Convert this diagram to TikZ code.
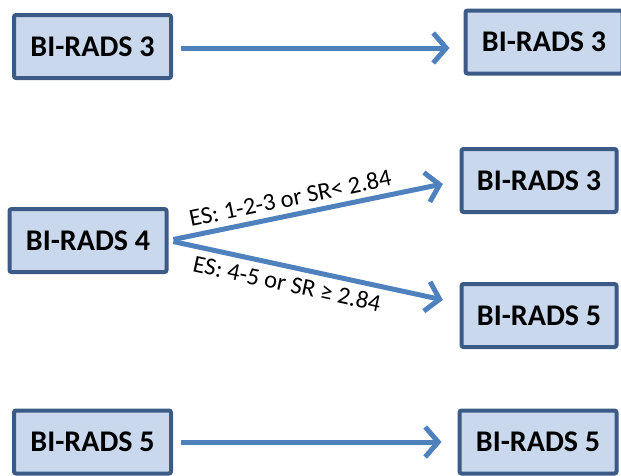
\documentclass[tikz,border=0pt]{standalone}
\usepackage{fontspec}
\setmainfont{Carlito}
\usetikzlibrary{arrows.meta}

\definecolor{boxline}{RGB}{60,90,134}
\definecolor{boxfill}{RGB}{201,216,236}
\definecolor{arrowblue}{RGB}{79,129,189}

\tikzset{
  radsbox/.style={draw=boxline, fill=boxfill, line width=4pt, rounded corners=2pt,
    minimum width=157pt, minimum height=63pt, inner sep=0pt,
    font=\fontsize{30}{32}\selectfont\bfseries},
  flowarrow/.style={draw=arrowblue, line width=5pt,
    -{Straight Barb[length=13pt, width=30pt, line width=5pt]}},
  esrule/.style={font=\fontsize{24.5}{26}\selectfont, inner sep=6pt}
}

\begin{document}
\begin{tikzpicture}[x=1pt, y=-1pt]
\useasboundingbox (0,0) rectangle (621,475);

% Row heights
\def\RowA{46.5};
\def\RowB{240.5};
\def\RowC{442};

% Left boxes
\node[radsbox] (l3) at (92.5,\RowA) {BI-RADS 3};
\node[radsbox] (l4) at (88,\RowB) {BI-RADS 4};
\node[radsbox] (l5) at (92.5,\RowC) {BI-RADS 5};

% Right boxes
\node[radsbox] (r3top) at (544,42) {BI-RADS 3};
\node[radsbox, minimum width=155pt] (r3mid) at (539,180.5) {BI-RADS 3};
\node[radsbox, minimum width=155pt] (r5mid) at (539,315.5) {BI-RADS 5};
\node[radsbox] (r5bot) at (538,\RowC) {BI-RADS 5};

% Arrows
\draw[flowarrow, shorten <=8pt, shorten >=14pt] ([yshift=-1.5pt]l3.east) -- ([yshift=-1.5pt]l3.east -| r3top.west);
\draw[flowarrow, shorten <=5pt, shorten >=17pt] (l4.east) -- (r3mid.west)
  node[esrule, pos=0.43, sloped, above] {ES: 1-2-3 or SR< 2.84};
\draw[flowarrow, shorten <=5pt, shorten >=17pt] (l4.east) -- ([yshift=12pt]r5mid.west)
  node[esrule, pos=0.42, sloped, below] {ES: 4-5 or SR ≥ 2.84};
\draw[flowarrow, shorten <=8pt, shorten >=16pt] (l5.east) -- (r5bot.west);
\end{tikzpicture}
\end{document}
